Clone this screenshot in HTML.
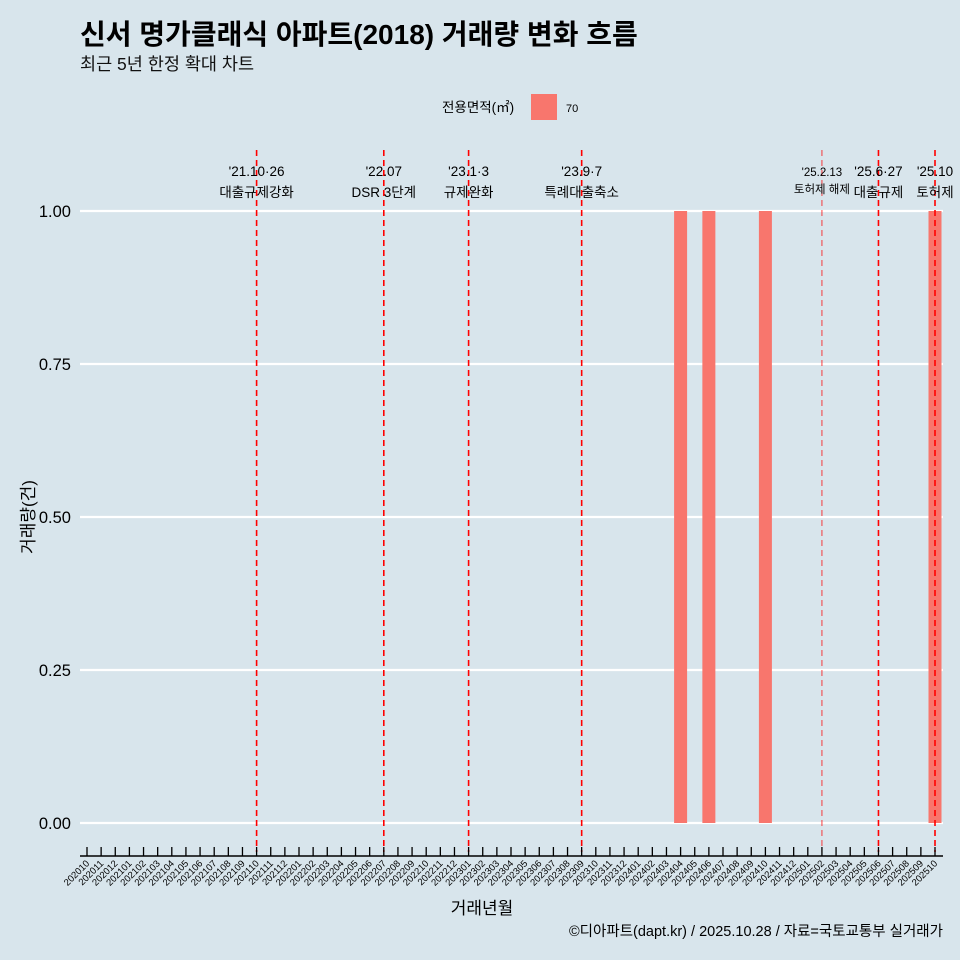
<!DOCTYPE html>
<html><head><meta charset="utf-8"><style>
body{margin:0;background:#d8e5ec;}
svg{display:block;font-family:"Liberation Sans","Noto Sans CJK KR",sans-serif;}
</style></head><body>
<svg id="c" width="960" height="960">
<rect width="960" height="960" fill="#d8e5ec"/>
<text x="80" y="44" font-size="28" font-weight="bold" fill="#000">신서 명가클래식 아파트(2018) 거래량 변화 흐름</text>
<text x="80" y="70" font-size="17.5" fill="#111">최근 5년 한정 확대 차트</text>
<g>
<text x="442" y="112" font-size="13.5">전용면적(㎡)</text>
<rect x="531" y="94" width="26" height="26" fill="#f8766d"/>
<text x="566" y="112" font-size="11">70</text>
</g>
<g id="grid"></g><g id="bars"></g><g id="vlines"></g><g id="xaxis"></g><g id="yaxis"></g>
<text transform="translate(34,517) rotate(-90)" text-anchor="middle" font-size="17">거래량(건)</text>
<text x="482" y="914" text-anchor="middle" font-size="17">거래년월</text>
<text x="943" y="936" text-anchor="end" font-size="14.5">©디아파트(dapt.kr) / 2025.10.28 / 자료=국토교통부 실거래가</text>
</svg>
<script>
const months=[];for(let y=2020,m=10;!(y===2025&&m===11);){months.push(y+String(m).padStart(2,'0'));m++;if(m>12){m=1;y++;}}
const barMonths=['202404','202406','202410','202510'];
const barValues=[1,1,1,1];
const yTicks=[0,0.25,0.5,0.75,1];
const yTickLabels=['0.00','0.25','0.50','0.75','1.00'];
const eventMonths=['202110','202207','202301','202309','202502','202506','202510'];
const eventDates=["'21.10·26","'22.07","'23.1·3","'23.9·7","'25.2.13","'25.6·27","'25.10"];
const eventTexts=["대출규제강화","DSR 3단계","규제완화","특례대출축소","토허제 해제","대출규제","토허제"];
const NS='http://www.w3.org/2000/svg';
const x0=87,x1=935,y0=823,y1=211,L=80,R=943;
const xs=m=>x0+(x1-x0)*months.indexOf(m)/(months.length-1);
const ys=v=>y0+(y1-y0)*v;
function mk(t,a,p){const e=document.createElementNS(NS,t);for(const k in a)e.setAttribute(k,a[k]);document.getElementById(p).appendChild(e);return e;}
yTicks.forEach((v,i)=>{
 const g=mk('line',{x1:L,x2:R,y1:ys(v),y2:ys(v),stroke:'#fff','stroke-width':2.2},'grid');
 
 
 const t=mk('text',{x:71,y:ys(v)+6,'text-anchor':'end','font-size':16.5},'yaxis');
 t.textContent=yTickLabels[i];
 
 
});
barMonths.forEach((m,i)=>{
 const b=mk('rect',{x:xs(m)-6.5,y:ys(barValues[i]),width:13,height:ys(0)-ys(barValues[i]),fill:'#f8766d'},'bars');
 
 
});
eventMonths.forEach((m,i)=>{
 const x=xs(m),small=m==='202502';
 const l=mk('line',{x1:x,x2:x,y1:150,y2:852,stroke:'#f00','stroke-width':small?1:1.6,'stroke-dasharray':'6,4','stroke-opacity':small?0.75:1},'vlines');
 
 
 const fs=small?11.5:13.5;
 const t1=mk('text',{x:x,y:176,'text-anchor':'middle','font-size':fs},'vlines');
 t1.textContent=eventDates[i];
 
 
 const t2=mk('text',{x:x,y:small?193:197,'text-anchor':'middle','font-size':fs},'vlines');
 t2.textContent=eventTexts[i];
 
 
});
const ax=mk('line',{x1:L,x2:R,y1:856,y2:856,stroke:'#000','stroke-width':1.5},'xaxis');


months.forEach(m=>{
 const x=xs(m);
 const tk=mk('line',{x1:x,x2:x,y1:847,y2:856,stroke:'#000','stroke-width':1.3},'xaxis');
 
 
 const t=mk('text',{x:x+3,y:864,'text-anchor':'end','font-size':9.5,transform:`rotate(-45 ${x+3} 864)`},'xaxis');
 t.textContent=m;
 
 
});
</script>
</body></html>
